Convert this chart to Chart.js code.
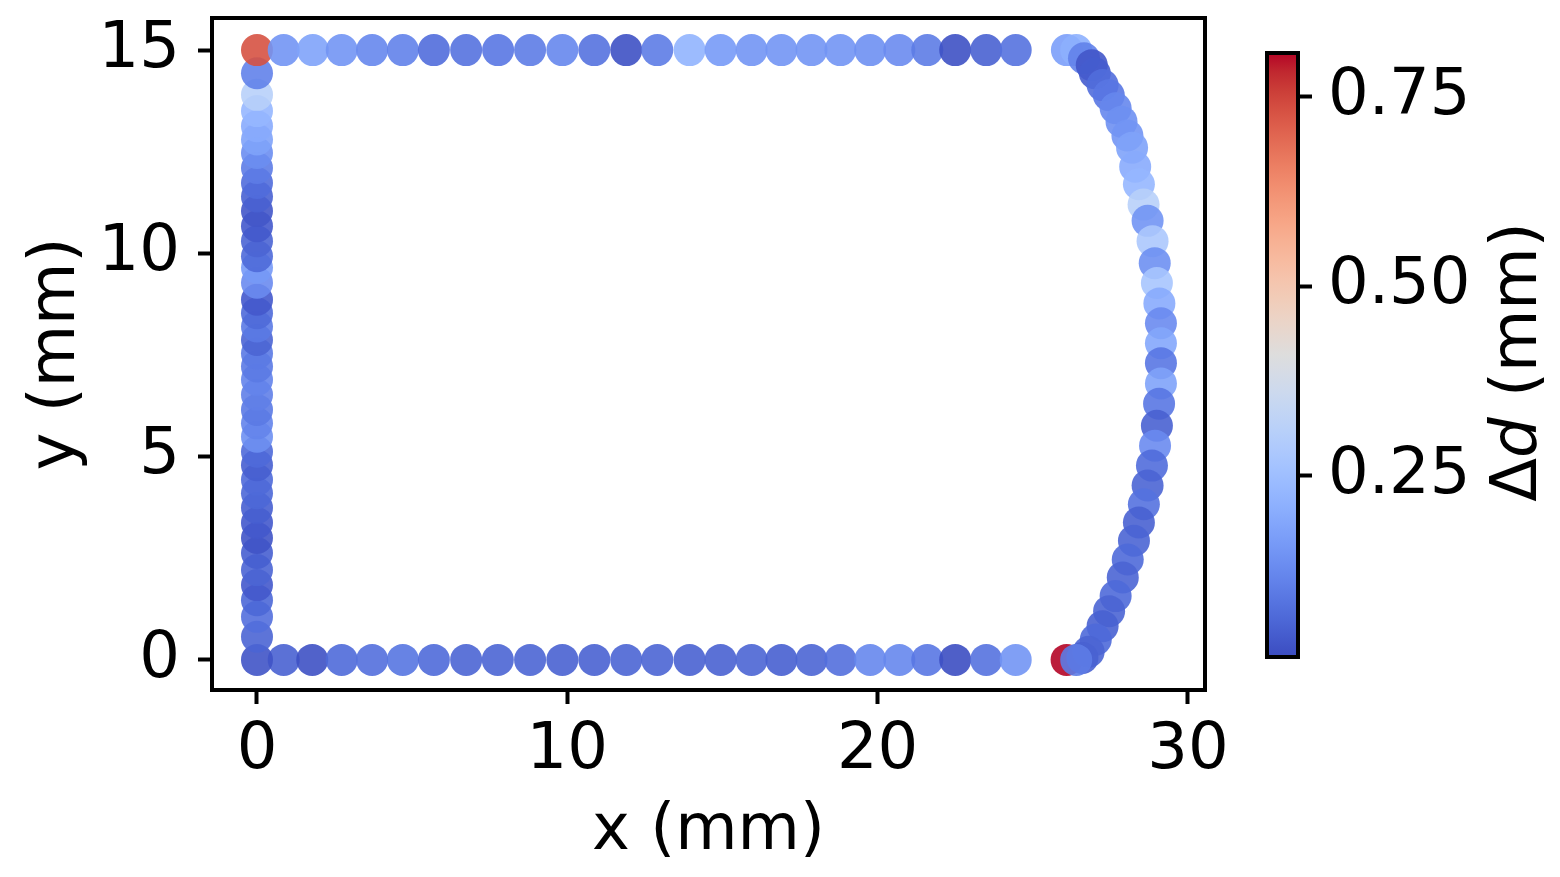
<!DOCTYPE html>
<html>
<head>
<meta charset="utf-8">
<script src="https://cdn.jsdelivr.net/npm/chart.js@4.4.1/dist/chart.umd.min.js"></script>
<style>
  html, body { margin: 0; padding: 0; background: #fff; }
  #wrap { display: flex; width: 1560px; height: 877px; }
  canvas { display: block; }
</style>
</head>
<body>
<div id="wrap">
  <canvas id="main" width="1240" height="877"></canvas>
  <canvas id="cbar" width="320" height="877"></canvas>
</div>
<script>
// --- data (mm) ---
// left edge, x = 0
const leftY = [0, 0.57, 1.06, 1.47, 1.84, 2.21, 2.63, 3.0, 3.37, 3.74, 4.1, 4.43, 4.79, 5.12, 5.49, 5.82, 6.15, 6.52, 6.89, 7.22,
               7.54, 7.87, 8.2, 8.53, 8.86, 9.28, 9.65, 9.93, 10.3, 10.67, 11.04, 11.4, 11.73, 12.1, 12.47, 12.8, 13.13, 13.5, 13.9, 14.43];
const leftD = [0.025, 0.055, 0.075, 0.06, 0.035, 0.055, 0.045, 0.025, 0.035, 0.045, 0.06, 0.065, 0.045, 0.065, 0.14, 0.115, 0.095, 0.105, 0.115, 0.095,
               0.095, 0.055, 0.095, 0.065, 0.035, 0.13, 0.16, 0.065, 0.055, 0.035, 0.03, 0.05, 0.07, 0.10, 0.135, 0.18, 0.20, 0.23, 0.31, 0.11];

// top edge, y = 15
const topX = [0, 0.86, 1.8, 2.73, 3.71, 4.7, 5.7, 6.74, 7.77, 8.8, 9.84, 10.87, 11.9, 12.9, 13.94, 14.94, 15.94, 16.9, 17.87, 18.8,
              19.76, 20.7, 21.6, 22.5, 23.5, 24.45];
const topD = [0.73, 0.15, 0.18, 0.15, 0.12, 0.11, 0.07, 0.08, 0.09, 0.10, 0.12, 0.08, 0.02, 0.10, 0.22, 0.16, 0.15, 0.15, 0.15, 0.15,
              0.14, 0.13, 0.10, 0.02, 0.05, 0.08];

// bottom edge, y = 0
const bottomX = [0.86, 1.78, 2.73, 3.71, 4.7, 5.7, 6.74, 7.76, 8.8, 9.84, 10.87, 11.9, 12.9, 13.94, 14.94, 15.94, 16.9, 17.87, 18.8,
                 19.76, 20.7, 21.6, 22.5, 23.5, 24.45, 26.09];
const bottomD = [0.05, 0.02, 0.065, 0.075, 0.085, 0.065, 0.055, 0.055, 0.055, 0.05, 0.05, 0.055, 0.055, 0.05, 0.05, 0.055, 0.045, 0.055, 0.075,
                 0.12, 0.12, 0.09, 0.015, 0.08, 0.15, 0.808];

// curved right edge, top to bottom
const rightX = [26.1, 26.4, 26.65, 26.9, 27.0, 27.25, 27.45, 27.67, 27.86, 28.05, 28.2, 28.3, 28.42, 28.57, 28.7, 28.86, 28.93, 29.0, 29.08, 29.13,
                29.13, 29.13, 29.13, 29.07, 29.0, 28.94, 28.84, 28.7, 28.58, 28.42, 28.26, 28.06, 27.9, 27.67, 27.46, 27.25, 27.03, 26.8, 26.6, 26.4];
const rightY = [15, 15, 14.8, 14.63, 14.43, 14.14, 13.89, 13.57, 13.24, 12.9, 12.6, 12.13, 11.7, 11.2, 10.8, 10.3, 9.76, 9.27, 8.77, 8.28,
                7.79, 7.3, 6.8, 6.3, 5.76, 5.27, 4.78, 4.29, 3.83, 3.38, 2.93, 2.47, 2.03, 1.57, 1.2, 0.83, 0.5, 0.2, 0.05, 0];
const rightD = [0.17, 0.21, 0.11, 0.03, 0.04, 0.07, 0.09, 0.12, 0.14, 0.15, 0.18, 0.20, 0.23, 0.31, 0.15, 0.28, 0.14, 0.27, 0.20, 0.13,
                0.19, 0.09, 0.18, 0.09, 0.05, 0.13, 0.07, 0.055, 0.08, 0.05, 0.055, 0.065, 0.055, 0.065, 0.055, 0.05, 0.065, 0.055, 0.05, 0.10];

const xTicks = [0, 10, 20, 30];
const yTicks = [0, 5, 10, 15];
const cbTicks = [0.25, 0.5, 0.75];
const vmin = 0.011, vmax = 0.808;

// coolwarm colormap
const CW = [[59,76,192],[68,90,204],[77,104,215],[87,117,225],[98,130,234],[108,142,241],[119,154,247],[130,165,251],
  [141,176,254],[152,185,255],[163,194,255],[174,201,253],[184,208,249],[194,213,244],[204,217,238],[213,219,230],
  [221,221,221],[229,216,209],[236,211,197],[241,204,184],[245,196,173],[247,187,160],[247,177,148],[247,166,135],
  [244,154,123],[241,141,111],[236,127,99],[229,112,88],[222,96,77],[213,80,66],[203,62,56],[192,40,47],[180,4,38]];

function coolwarm(v, alpha) {
  let t = (v - vmin) / (vmax - vmin);
  t = Math.max(0, Math.min(1, t));
  const p = t * (CW.length - 1);
  const i = Math.min(Math.floor(p), CW.length - 2);
  const f = p - i;
  const c = CW[i].map((a, k) => Math.round(a + (CW[i + 1][k] - a) * f));
  return `rgba(${c[0]},${c[1]},${c[2]},${alpha})`;
}

const points = [];
bottomX.forEach((x, i) => points.push({ x: x, y: 0, d: bottomD[i] }));
leftY.forEach((y, i) => points.push({ x: 0, y: y, d: leftD[i] }));
topX.forEach((x, i) => points.push({ x: x, y: 15, d: topD[i] }));
rightX.forEach((x, i) => points.push({ x: x, y: rightY[i], d: rightD[i] }));

const FONT = 'DejaVu Sans';
const tickFont = { family: FONT, size: 64 };

const frame = {
  id: 'frame',
  afterDraw(chart) {
    const { ctx, chartArea: a } = chart;
    ctx.save();
    ctx.strokeStyle = '#000';
    ctx.lineWidth = 4;
    ctx.strokeRect(a.left, a.top, a.right - a.left, a.bottom - a.top);
    ctx.restore();
  }
};

const tickGrid = { drawOnChartArea: false, drawTicks: true, tickLength: 14, tickWidth: 4, tickColor: '#000' };

new Chart(document.getElementById('main'), {
  type: 'scatter',
  data: {
    datasets: [{
      data: points,
      pointBackgroundColor: points.map(p => coolwarm(p.d, 0.9)),
      pointBorderWidth: 0,
      pointRadius: 16,
      pointHoverRadius: 16
    }]
  },
  options: {
    responsive: false,
    devicePixelRatio: 1,
    animation: false,
    layout: { padding: { left: 0, right: 35, top: 18, bottom: 0 } },
    plugins: { legend: { display: false }, tooltip: { enabled: false } },
    scales: {
      x: {
        type: 'linear', min: -1.45, max: 30.55,
        afterBuildTicks: s => { s.ticks = xTicks.map(v => ({ value: v })); },
        afterFit: s => { s.height = 187; s.paddingLeft = 0; s.paddingRight = 0; },
        ticks: { font: tickFont, color: '#000', padding: 9, maxRotation: 0 },
        grid: tickGrid,
        border: { display: false },
        title: { display: true, text: 'x (mm)', font: tickFont, color: '#000', padding: { top: 0, bottom: 6 } }
      },
      y: {
        type: 'linear', min: -0.74, max: 15.79,
        afterBuildTicks: s => { s.ticks = yTicks.map(v => ({ value: v })); },
        afterFit: s => { s.width = 212; s.paddingTop = 0; s.paddingBottom = 0; },
        ticks: { font: tickFont, color: '#000', padding: 18 },
        grid: tickGrid,
        border: { display: false },
        title: { display: true, text: 'y (mm)', font: tickFont, color: '#000', padding: { top: 19, bottom: 0 } }
      }
    }
  },
  plugins: [frame]
});

// --- colorbar ---
const cbTitle = {
  id: 'cbTitle',
  afterDraw(chart) {
    const ctx = chart.ctx;
    const parts = [['Δ', 'normal'], ['d', 'italic'], [' (mm)', 'normal']];
    ctx.save();
    ctx.translate(279, 362);
    ctx.rotate(-Math.PI / 2);
    ctx.fillStyle = '#000';
    ctx.textBaseline = 'middle';
    ctx.textAlign = 'left';
    let total = 0;
    parts.forEach(p => { ctx.font = `${p[1]} 64px "${FONT}"`; total += ctx.measureText(p[0]).width; });
    let x = -total / 2;
    parts.forEach(p => { ctx.font = `${p[1]} 64px "${FONT}"`; ctx.fillText(p[0], x, 0); x += ctx.measureText(p[0]).width; });
    ctx.restore();
  }
};

new Chart(document.getElementById('cbar'), {
  type: 'bar',
  data: {
    labels: [''],
    datasets: [{
      data: [[vmin, vmax]],
      barPercentage: 1,
      categoryPercentage: 1,
      borderWidth: 0,
      backgroundColor: ctx => {
        const a = ctx.chart.chartArea;
        if (!a) return 'transparent';
        const g = ctx.chart.ctx.createLinearGradient(0, a.bottom, 0, a.top);
        CW.forEach((c, i) => g.addColorStop(i / (CW.length - 1), `rgb(${c[0]},${c[1]},${c[2]})`));
        return g;
      }
    }]
  },
  options: {
    responsive: false,
    devicePixelRatio: 1,
    animation: false,
    layout: { padding: { left: 27, right: 0, top: 53, bottom: 220 } },
    plugins: { legend: { display: false }, tooltip: { enabled: false } },
    scales: {
      x: { display: false },
      y: {
        position: 'right', min: vmin, max: vmax,
        afterBuildTicks: s => { s.ticks = cbTicks.map(v => ({ value: v })); },
        afterFit: s => { s.width = 262; s.paddingTop = 0; s.paddingBottom = 0; },
        ticks: { font: tickFont, color: '#000', padding: 16, callback: v => v.toFixed(2) },
        grid: tickGrid,
        border: { display: false }
      }
    }
  },
  plugins: [frame, cbTitle]
});
</script>
</body>
</html>
